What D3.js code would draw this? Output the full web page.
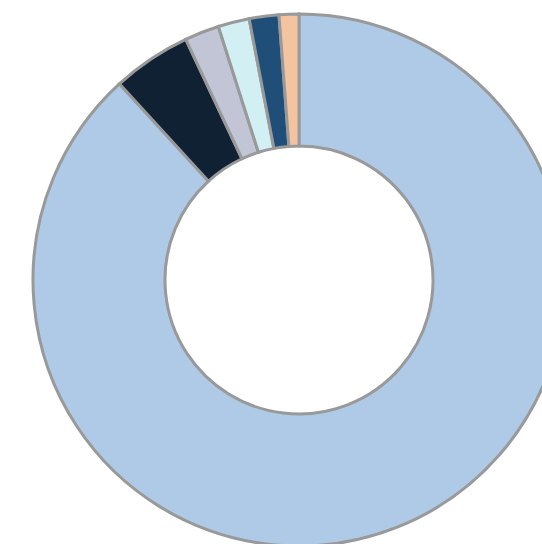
<!DOCTYPE html>
<html>
<head>
<meta charset="utf-8">
<script src="https://cdn.jsdelivr.net/npm/d3@7"></script>
<style>
  html, body { margin: 0; padding: 0; background: #ffffff; overflow: hidden; }
  svg { display: block; }
</style>
</head>
<body>
<svg id="chart" width="542" height="544"></svg>
<script>
// Slice data, clockwise from twelve o'clock
const categories = ["A", "B", "C", "D", "E", "F"];
const values = [88.2, 4.8, 2.1, 1.9, 1.8, 1.2];
const colors = ["#aecae6", "#0f2132", "#c2c5d5", "#d2f0f3", "#1f4e78", "#f4c3a0"];

const width = 542, height = 544;
const cx = 299, cy = 280;
const outerR = 266, innerR = 134;

const svg = d3.select("#chart");

const color = d3.scaleOrdinal().domain(categories).range(colors);

const pie = d3.pie()
  .sort(null)
  .value(d => d.value);

const arc = d3.arc()
  .innerRadius(innerR)
  .outerRadius(outerR);

const data = categories.map((c, i) => ({ category: c, value: values[i] }));

svg.append("g")
  .attr("transform", `translate(${cx},${cy})`)
  .selectAll("path")
  .data(pie(data))
  .join("path")
  .attr("d", arc)
  .attr("fill", d => color(d.data.category))
  .attr("stroke", "#999999")
  .attr("stroke-width", 3)
  .attr("stroke-linejoin", "miter");
</script>
</body>
</html>
